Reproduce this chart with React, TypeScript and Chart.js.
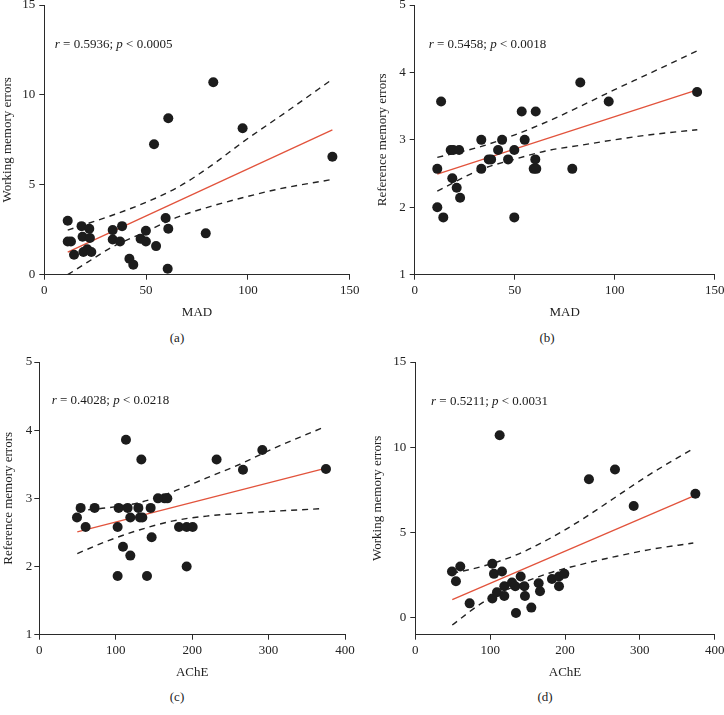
import React, { useEffect, useRef } from "react";
import { Chart, registerables } from "chart.js";

Chart.register(...registerables);

const FONT = '"Liberation Serif", "Times New Roman", serif';
const RED = "#e2533c";
const INK = "#1c1c1c";
const AXIS = "#2a2a2a";

// ---------- Panel (a): MAD vs Working memory errors ----------
const madA = [11.5, 11.5, 13.1, 14.6, 18.3, 18.8, 19.2, 21.1, 22.1, 22.4, 23.1, 33.6, 33.6, 37.2, 38.2, 41.8, 43.7, 47.3, 49.9, 49.9, 53.9, 54.9, 59.6, 60.9, 60.9, 60.6, 79.3, 83.0, 97.4, 141.5];
const wmeA = [3.0, 1.85, 1.85, 1.11, 2.7, 2.11, 1.26, 1.41, 2.56, 2.04, 1.26, 2.48, 1.96, 1.85, 2.7, 0.89, 0.56, 2.0, 2.44, 1.85, 7.26, 1.59, 3.15, 8.7, 2.56, 0.33, 2.3, 10.7, 8.15, 6.56];
const fitXA = [11.5, 141.5];
const fitYA = [1.26, 8.05];
const upXA = [11.5, 32.7, 49, 65.4, 81.8, 97.8, 120.7, 141.5];
const upYA = [2.48, 3.28, 3.98, 4.85, 6.05, 7.4, 9.2, 10.87];
const loXA = [11.5, 21.3, 32.7, 49, 65.4, 81.8, 98.1, 114.5, 141.5];
const loYA = [0, 0.7, 1.5, 2.35, 3.2, 3.8, 4.3, 4.75, 5.3];

// ---------- Panel (b): MAD vs Reference memory errors ----------
const madB = [11.3, 11.3, 13.2, 14.3, 18.0, 19.3, 18.8, 21.0, 22.2, 22.7, 33.3, 33.3, 37.0, 38.2, 41.7, 43.7, 46.7, 49.8, 49.8, 53.5, 55.0, 59.5, 60.3, 60.5, 60.8, 78.8, 82.8, 97.0, 141.2];
const rmeB = [2.57, 2.0, 3.57, 1.85, 2.85, 2.85, 2.43, 2.29, 2.85, 2.14, 3.0, 2.57, 2.71, 2.71, 2.85, 3.0, 2.71, 2.85, 1.85, 3.42, 3.0, 2.57, 2.71, 3.42, 2.57, 2.57, 3.85, 3.57, 3.71];
const fitXB = [11.3, 141.3];
const fitYB = [2.49, 3.74];
const upXB = [11.3, 33, 49.7, 66.3, 83, 99.7, 116.3, 141.3];
const upYB = [2.74, 2.9, 3.07, 3.27, 3.5, 3.74, 3.97, 4.32];
const loXB = [11.3, 33, 49.7, 66.3, 83, 99.7, 116.3, 141.3];
const loYB = [2.24, 2.56, 2.71, 2.84, 2.92, 3.0, 3.07, 3.15];

// ---------- Panel (c): AChE vs Reference memory errors ----------
const acheC = [49.3, 54.1, 60.6, 72.4, 102.5, 103.8, 102.5, 109.5, 113.4, 115.6, 119.1, 119.1, 129.6, 131.7, 134.8, 133.5, 140.9, 145.7, 147.0, 155.3, 164.0, 167.5, 182.8, 192.8, 200.7, 192.8, 232.0, 266.5, 291.8, 375.1];
const rmeC = [2.72, 2.86, 2.58, 2.86, 2.58, 2.86, 1.86, 2.29, 3.86, 2.86, 2.16, 2.72, 2.86, 2.72, 2.72, 3.57, 1.86, 2.86, 2.43, 3.0, 3.0, 3.0, 2.58, 2.58, 2.58, 2.0, 3.57, 3.42, 3.71, 3.43];
const fitXC = [49.7, 374];
const fitYC = [2.51, 3.44];
const upXC = [49.7, 88, 131.8, 175.4, 219, 262.6, 306, 371.8];
const upYC = [2.82, 2.86, 2.94, 3.1, 3.3, 3.5, 3.73, 4.04];
const loXC = [49.7, 88, 131.8, 175.4, 219, 262.6, 306, 371.8];
const loYC = [2.19, 2.37, 2.54, 2.67, 2.74, 2.78, 2.81, 2.85];

// ---------- Panel (d): AChE vs Working memory errors ----------
const acheD = [49, 54.3, 60.1, 72.6, 102.9, 102.9, 105.1, 109.1, 112.7, 115.8, 118.9, 118.9, 129.2, 133.6, 134.5, 140.8, 145.7, 146.5, 155, 164.8, 166.6, 182.6, 192, 192, 199.1, 232, 266.8, 291.8, 374.2];
const wmeD = [2.71, 2.14, 3.0, 0.84, 3.16, 1.12, 2.57, 1.49, 10.7, 2.71, 1.84, 1.27, 2.06, 1.84, 0.27, 2.41, 1.84, 1.27, 0.59, 2.02, 1.55, 2.27, 2.41, 1.84, 2.57, 8.12, 8.69, 6.55, 7.27];
const fitXD = [49.4, 373.7];
const fitYD = [1.06, 7.18];
const upXD = [49.4, 88.7, 133.2, 177.7, 222.3, 266.8, 311.3, 371.4];
const upYD = [2.6, 3.0, 3.65, 4.6, 5.75, 7.05, 8.35, 9.92];
const loXD = [49.4, 88.7, 133.2, 177.7, 222.3, 266.8, 311.3, 371.4];
const loYD = [-0.43, 0.85, 1.85, 2.6, 3.13, 3.58, 3.98, 4.38];

// ---------- Labels ----------
const statsA = ["0.5936", "0.0005"];
const statsB = ["0.5458", "0.0018"];
const statsC = ["0.4028", "0.0218"];
const statsD = ["0.5211", "0.0031"];

const pts = (xs: number[], ys: number[]) => xs.map((x, i) => ({ x, y: ys[i] }));

type Panel = {
  left: number; top: number; w: number; h: number;
  padL: number; padR: number; padT: number;
  yW: number; xH: number;
  xMin: number; xMax: number; xStep: number;
  yMin: number; yMax: number; yStep: number;
  xTitle: string; yTitle: string;
  px: number[]; py: number[];
  fx: number[]; fy: number[];
  ux: number[]; uy: number[];
  lx: number[]; ly: number[];
  stats: string[];
  annDx: number; annDy: number;
  yTickPad: number;
};

const panels: Panel[] = [
  {
    left: 0, top: 0, w: 362, h: 320, padL: 0, padR: 12.3, padT: 4.7, yW: 44.3, xH: 45.3,
    xMin: 0, xMax: 150, xStep: 50, yMin: 0, yMax: 15, yStep: 5,
    xTitle: "MAD", yTitle: "Working memory errors",
    px: madA, py: wmeA, fx: fitXA, fy: fitYA, ux: upXA, uy: upYA, lx: loXA, ly: loYA,
    stats: statsA, annDx: 10.5, annDy: 40, yTickPad: 4,
  },
  {
    left: 362, top: 0, w: 362, h: 320, padL: 13, padR: 9.3, padT: 4.7, yW: 39.7, xH: 45.3,
    xMin: 0, xMax: 150, xStep: 50, yMin: 1, yMax: 5, yStep: 1,
    xTitle: "MAD", yTitle: "Reference memory errors",
    px: madB, py: rmeB, fx: fitXB, fy: fitYB, ux: upXB, uy: upYB, lx: loXB, ly: loYB,
    stats: statsB, annDx: 14, annDy: 40, yTickPad: 4,
  },
  {
    left: 0, top: 350, w: 362, h: 330, padL: 0.5, padR: 17, padT: 12, yW: 38.8, xH: 45.3,
    xMin: 0, xMax: 400, xStep: 100, yMin: 1, yMax: 5, yStep: 1,
    xTitle: "AChE", yTitle: "Reference memory errors",
    px: acheC, py: rmeC, fx: fitXC, fy: fitYC, ux: upXC, uy: upYC, lx: loXC, ly: loYC,
    stats: statsC, annDx: 12.4, annDy: 39, yTickPad: 2,
  },
  {
    left: 362, top: 350, w: 362, h: 330, padL: 8.2, padR: 9.3, padT: 12, yW: 45.1, xH: 45.3,
    xMin: 0, xMax: 400, xStep: 100, yMin: -1, yMax: 15, yStep: 5,
    xTitle: "AChE", yTitle: "Working memory errors",
    px: acheD, py: wmeD, fx: fitXD, fy: fitYD, ux: upXD, uy: upYD, lx: loXD, ly: loYD,
    stats: statsD, annDx: 15.7, annDy: 39.7, yTickPad: 4,
  },
];

const captions = [
  { t: "(a)", x: 177, y: 337.5 },
  { t: "(b)", x: 547, y: 337.5 },
  { t: "(c)", x: 177, y: 696.5 },
  { t: "(d)", x: 545, y: 696.5 },
];

function PanelChart({ p }: { p: Panel }) {
  const ref = useRef<HTMLCanvasElement | null>(null);
  useEffect(() => {
    const canvas = ref.current;
    if (!canvas) return;
    const annotation = {
      id: "statsText",
      afterDatasetsDraw(chart: any) {
        const { ctx, chartArea } = chart;
        const x0 = chartArea.left + p.annDx;
        const y0 = chartArea.top + p.annDy;
        const parts: [string, boolean][] = [
          ["r", true],
          [" = " + p.stats[0] + "; ", false],
          ["p", true],
          [" < " + p.stats[1], false],
        ];
        ctx.save();
        ctx.fillStyle = "#1a1a1a";
        ctx.textBaseline = "middle";
        ctx.textAlign = "left";
        let x = x0;
        for (const [s, it] of parts) {
          ctx.font = (it ? "italic " : "") + "13px " + FONT;
          ctx.fillText(s, x, y0);
          x += ctx.measureText(s).width;
        }
        ctx.restore();
      },
    };
    const tickFont = { family: FONT, size: 13 };
    const chart = new Chart(canvas, {
      type: "scatter",
      data: {
        datasets: [
          {
            data: pts(p.px, p.py),
            pointRadius: 5,
            pointBackgroundColor: INK,
            pointBorderColor: INK,
            pointBorderWidth: 0,
            showLine: false,
            order: 1,
          },
          {
            data: pts(p.fx, p.fy),
            showLine: true,
            borderColor: RED,
            borderWidth: 1.3,
            pointRadius: 0,
            order: 2,
          },
          {
            data: pts(p.ux, p.uy),
            showLine: true,
            borderColor: "#222",
            borderWidth: 1.4,
            borderDash: [6, 5],
            pointRadius: 0,
            cubicInterpolationMode: "monotone",
            order: 2,
          },
          {
            data: pts(p.lx, p.ly),
            showLine: true,
            borderColor: "#222",
            borderWidth: 1.4,
            borderDash: [6, 5],
            pointRadius: 0,
            cubicInterpolationMode: "monotone",
            order: 2,
          },
        ],
      } as any,
      options: {
        responsive: false,
        animation: false,
        devicePixelRatio: 1,
        layout: { padding: { left: p.padL, right: p.padR, top: p.padT, bottom: 0 } },
        plugins: { legend: { display: false }, tooltip: { enabled: false } },
        scales: {
          x: {
            type: "linear",
            min: p.xMin,
            max: p.xMax,
            ticks: { stepSize: p.xStep, font: tickFont, color: "#222", padding: 3, includeBounds: false },
            grid: { display: true, drawOnChartArea: false, drawTicks: true, tickLength: 5, color: AXIS, lineWidth: 1 },
            border: { display: true, color: AXIS, width: 1 },
            title: { display: true, text: p.xTitle, font: { family: FONT, size: 13 }, color: "#222", padding: 0 },
            afterFit: (s: any) => {
              s.height = p.xH;
              s.paddingLeft = 0;
              s.paddingRight = 0;
            },
          },
          y: {
            type: "linear",
            min: p.yMin,
            max: p.yMax,
            ticks: { stepSize: p.yStep, font: tickFont, color: "#222", padding: p.yTickPad, includeBounds: false },
            grid: { display: true, drawOnChartArea: false, drawTicks: true, tickLength: 5, color: AXIS, lineWidth: 1 },
            border: { display: true, color: AXIS, width: 1 },
            title: { display: true, text: p.yTitle, font: { family: FONT, size: 13 }, color: "#222", padding: 0 },
            afterFit: (s: any) => {
              s.width = p.yW;
              s.paddingTop = 0;
              s.paddingBottom = 0;
            },
          },
        },
      } as any,
      plugins: [annotation],
    });
    return () => chart.destroy();
  }, [p]);
  return (
    <canvas
      ref={ref}
      width={p.w}
      height={p.h}
      style={{ position: "absolute", left: p.left, top: p.top, width: p.w, height: p.h }}
    />
  );
}

export default function App() {
  return (
    <div style={{ position: "absolute", left: 0, top: 0, width: 724, height: 715, background: "#fff", overflow: "hidden" }}>
      {panels.map((p, i) => (
        <PanelChart key={i} p={p} />
      ))}
      {captions.map((c, i) => (
        <div
          key={"c" + i}
          style={{
            position: "absolute",
            left: c.x - 20,
            top: c.y - 8,
            width: 40,
            height: 16,
            lineHeight: "16px",
            textAlign: "center",
            fontFamily: FONT,
            fontSize: 13,
            color: "#222",
          }}
        >
          {c.t}
        </div>
      ))}
    </div>
  );
}
